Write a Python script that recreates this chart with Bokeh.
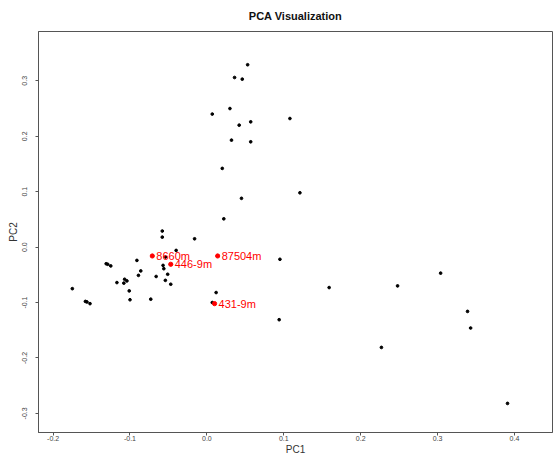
from bokeh.plotting import figure
from bokeh.models import FixedTicker, PrintfTickFormatter, Range1d, ColumnDataSource
from bokeh.embed import file_html
from bokeh.resources import INLINE
from bokeh.core.properties import value

# ---- data ----
pc1 = [0.053, 0.036, 0.046, 0.030, 0.007, 0.057, 0.042, 0.108, 0.032, 0.057,
       0.020, 0.121, 0.045, 0.022, -0.016, -0.058, -0.058, -0.040, -0.054, -0.057,
       -0.056, -0.051, -0.054, -0.047, -0.066, -0.091, -0.086, -0.089, -0.131, -0.129,
       -0.125, -0.117, -0.108, -0.107, -0.104, -0.101, -0.100, -0.073, -0.175, -0.158,
       -0.156, -0.152, 0.012, 0.007, 0.095, 0.094, 0.159, 0.248, 0.304, 0.339,
       0.343, 0.227, 0.391]
pc2 = [0.329, 0.306, 0.303, 0.250, 0.240, 0.226, 0.220, 0.232, 0.193, 0.190,
       0.142, 0.098, 0.088, 0.051, 0.015, 0.029, 0.018, -0.006, -0.018, -0.033,
       -0.039, -0.049, -0.060, -0.067, -0.053, -0.024, -0.043, -0.051, -0.030, -0.031,
       -0.034, -0.064, -0.065, -0.058, -0.061, -0.079, -0.095, -0.094, -0.075, -0.098,
       -0.099, -0.102, -0.082, -0.100, -0.022, -0.131, -0.073, -0.070, -0.047, -0.116,
       -0.146, -0.181, -0.282]

lab_names = ["8660m", "446-9m", "87504m", "431-9m"]
lab_pc1 = [-0.071, -0.047, 0.014, 0.010]
lab_pc2 = [-0.016, -0.031, -0.016, -0.102]

x_ticks = [-0.2, -0.1, 0.0, 0.1, 0.2, 0.3, 0.4]
y_ticks = [-0.3, -0.2, -0.1, 0.0, 0.1, 0.2, 0.3]

FONT = "Liberation Sans"

p = figure(width=553, height=457, output_backend="svg", toolbar_location=None,
           x_range=Range1d(-0.219, 0.4495), y_range=Range1d(-0.3345, 0.389),
           min_border_left=38, min_border_right=1, min_border_top=31,
           min_border_bottom=24, title="PCA Visualization")

p.title.align = "center"
p.title.vertical_align = "top"
p.title.text_font = FONT
p.title.text_font_size = "11px"
p.title.text_font_style = "bold"
p.title.text_color = "#111111"
p.title.standoff = 15

p.grid.visible = False
p.outline_line_color = "#555555"
p.outline_line_width = 1
p.background_fill_color = "white"
p.border_fill_color = "white"

p.xaxis.axis_label = "PC1"
p.yaxis.axis_label = "PC2"
p.xaxis.ticker = FixedTicker(ticks=x_ticks)
p.yaxis.ticker = FixedTicker(ticks=y_ticks)
p.yaxis.major_label_orientation = "vertical"
for ax in (p.xaxis[0], p.yaxis[0]):
    ax.formatter = PrintfTickFormatter(format="%.1f")
    ax.major_tick_in = 0
    ax.major_tick_out = 3
    ax.minor_tick_line_color = None
    ax.axis_line_color = "#555555"
    ax.major_tick_line_color = "#555555"
    ax.major_label_text_font = FONT
    ax.major_label_text_font_size = "7px"
    ax.major_label_text_color = "#444444"
    ax.axis_label_text_font = FONT
    ax.axis_label_text_font_size = "10px"
    ax.axis_label_text_font_style = "normal"
    ax.axis_label_text_color = "#333333"

p.xaxis.major_label_standoff = 0
p.xaxis.axis_label_standoff = 0
p.yaxis.major_label_standoff = 8
p.yaxis.axis_label_standoff = 1

p.scatter(pc1, pc2, size=2.7, color="black")

src = ColumnDataSource(dict(x=lab_pc1, y=lab_pc2, name=lab_names))
p.scatter("x", "y", source=src, size=4.2, color="red")
p.text("x", "y", text="name", source=src, x_offset=4, text_baseline="middle",
       text_align="left", text_font=value(FONT), text_font_size="11px",
       text_color="red")

open("out.html", "w").write(file_html(p, INLINE))
